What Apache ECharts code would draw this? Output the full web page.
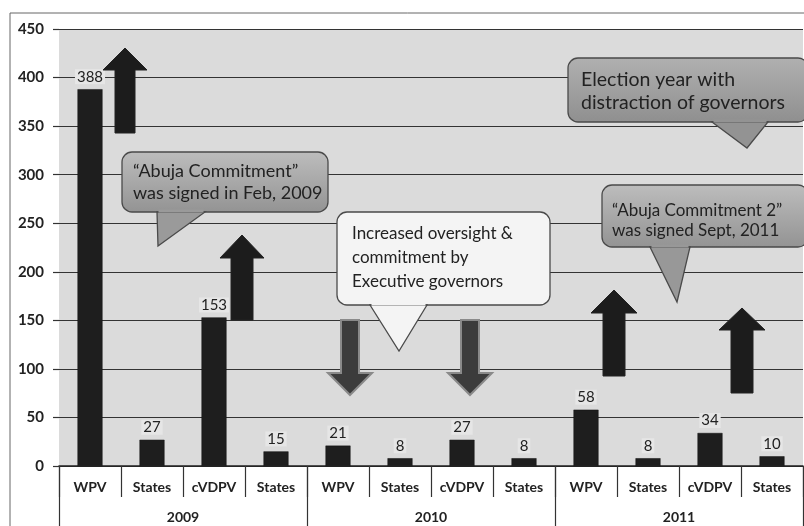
<!DOCTYPE html>
<html>
<head>
<meta charset="utf-8">
<script src="https://cdn.jsdelivr.net/npm/echarts@6/dist/echarts.min.js"></script>
<style>
  html, body { margin: 0; padding: 0; background: #fff; }
  #main { width: 804px; height: 526px; }
</style>
</head>
<body>
<div id="main"></div>
<script>
// chart data
var categories = ['WPV', 'States', 'cVDPV', 'States',
                  'WPV', 'States', 'cVDPV', 'States',
                  'WPV', 'States', 'cVDPV', 'States'];
var years = ['2009', '2010', '2011'];
var cases = [388, 27, 153, 15, 21, 8, 27, 8, 58, 8, 34, 10];
var yMin = 0, yMax = 450, yStep = 50;

var noteAbuja1 = '\u201cAbuja Commitment\u201d\nwas signed in Feb, 2009';
var noteElection = 'Election year with\ndistraction of governors';
var noteAbuja2 = '\u201cAbuja Commitment 2\u201d\nwas signed Sept, 2011';
var noteOversight = 'Increased oversight &\ncommitment by\nExecutive governors';

var FONT = 'Lato, "Open Sans", sans-serif';

var chartDom = document.getElementById('main');
var myChart = echarts.init(chartDom);

function upArrow(cx, top, headBase, bottom, hw, sw, fill) {
    return {
        type: 'polygon', z: 50,
        shape: { points: [[cx, top], [cx + hw, headBase], [cx + sw, headBase], [cx + sw, bottom],
                          [cx - sw, bottom], [cx - sw, headBase], [cx - hw, headBase]] },
        style: { fill: fill, stroke: '#222', lineWidth: 1 }
    };
}
function downArrow(cx, top, headBase, tip, hw, sw) {
    return {
        type: 'polygon', z: 50,
        shape: { points: [[cx - sw, top], [cx + sw, top], [cx + sw, headBase], [cx + hw, headBase],
                          [cx, tip], [cx - hw, headBase], [cx - sw, headBase]] },
        style: { fill: '#3c3c3c', stroke: '#8a8a8a', lineWidth: 2 }
    };
}

// rounded box with a pointer tail
function callout(x, y, w, h, tail, text, fill, tailFill, fontSize, lineH, tx, ty) {
    var bottom = y + h;
    return [
        {
            type: 'rect', z: 60,
            shape: { x: x, y: y, width: w, height: h, r: 10 },
            style: { fill: fill, stroke: '#4a4a4a', lineWidth: 1.3 }
        },
        {
            type: 'polygon', z: 61,
            shape: { points: [[tail[0], bottom], [tail[2], tail[3]], [tail[1], bottom]] },
            style: { fill: tailFill, stroke: '#4a4a4a', lineWidth: 1.3 }
        },
        {
            type: 'line', z: 62,
            shape: { x1: tail[0] + 1.5, y1: bottom - 1, x2: tail[1] - 1.5, y2: bottom - 1 },
            style: { stroke: tailFill, lineWidth: 3 }
        },
        {
            type: 'text', z: 63,
            style: { text: text, x: tx, y: ty, font: fontSize + 'px ' + FONT,
                     fill: '#222', lineHeight: lineH, verticalAlign: 'top' }
        }
    ];
}

var grayFill = new echarts.graphic.LinearGradient(0, 0, 0, 1, [
    { offset: 0, color: '#bdbdbd' },
    { offset: 1, color: '#939393' }
]);
var grayFill2 = new echarts.graphic.LinearGradient(0, 0, 0, 1, [
    { offset: 0, color: '#b0b0b0' },
    { offset: 1, color: '#8f8f8f' }
]);

var graphics = [
    {
        type: 'rect', z: 0, silent: true,
        shape: { x: 10, y: 13, width: 900, height: 600 },
        style: { fill: 'none', stroke: '#666', lineWidth: 1 }
    },
    upArrow(125, 48, 70, 133, 22, 10, '#1c1c1c'),
    upArrow(242, 235, 258, 320, 22, 11, '#1c1c1c'),
    downArrow(350, 320, 373, 395, 22, 9),
    downArrow(470, 320, 373, 395, 22, 9),
    upArrow(614, 290, 313, 376, 23, 11, '#1c1c1c'),
    upArrow(742, 308, 330, 393, 23, 11, '#1c1c1c')
];
graphics = graphics
    .concat(callout(122, 152, 206, 60, [157, 205, 158, 246], noteAbuja1, grayFill, '#9a9a9a', 18, 22, 133, 160))
    .concat(callout(568, 58, 240, 64, [712, 768, 747, 148], noteElection, grayFill2, '#939393', 19.5, 23, 581, 68))
    .concat(callout(602, 185, 206, 62, [650, 690, 677, 302], noteAbuja2, grayFill, '#989898', 17, 20, 612, 201))
    .concat(callout(337, 212, 213, 93, [370, 427, 399, 351], noteOversight, '#f4f4f4', '#f4f4f4', 17, 24, 352, 222));

var option = {
    animation: false,
    backgroundColor: '#ffffff',
    grid: {
        left: 59, right: 1, top: 29, bottom: 60,
        show: true, backgroundColor: '#dbdbdb', borderWidth: 0
    },
    xAxis: [
        {
            type: 'category',
            data: categories,
            axisLine: { lineStyle: { color: '#222', width: 1.5 } },
            axisTick: { show: true, interval: 0, length: 31, lineStyle: { color: '#333', width: 1.2 } },
            axisLabel: { interval: 0, margin: 14, color: '#222', fontFamily: FONT, fontWeight: 'bold', fontSize: 14 }
        },
        {
            type: 'category',
            data: years,
            position: 'bottom',
            axisLine: { show: false },
            axisTick: { show: true, interval: 0, length: 62, lineStyle: { color: '#333', width: 1.2 } },
            axisLabel: { interval: 0, margin: 44, color: '#222', fontFamily: FONT, fontWeight: 'bold', fontSize: 14 }
        }
    ],
    yAxis: {
        type: 'value',
        min: yMin, max: yMax, interval: yStep,
        axisLine: { show: false },
        axisTick: { show: true, length: 6, lineStyle: { color: '#333', width: 1.2 } },
        axisLabel: { margin: 15, color: '#222', fontFamily: FONT, fontWeight: 'bold', fontSize: 15 },
        splitLine: { lineStyle: { color: '#333', width: 1.2 } }
    },
    series: [
        {
            type: 'bar',
            data: cases,
            barWidth: 25,
            itemStyle: { color: '#1e1e1e', borderColor: '#111', borderWidth: 0.5 },
            label: {
                show: true, position: 'top', distance: 5,
                color: '#222', fontFamily: FONT, fontSize: 15,
                backgroundColor: '#e6e6e6', padding: [0, 2]
            },
            z: 5
        }
    ],
    graphic: graphics
};

option && myChart.setOption(option);
</script>
</body>
</html>
